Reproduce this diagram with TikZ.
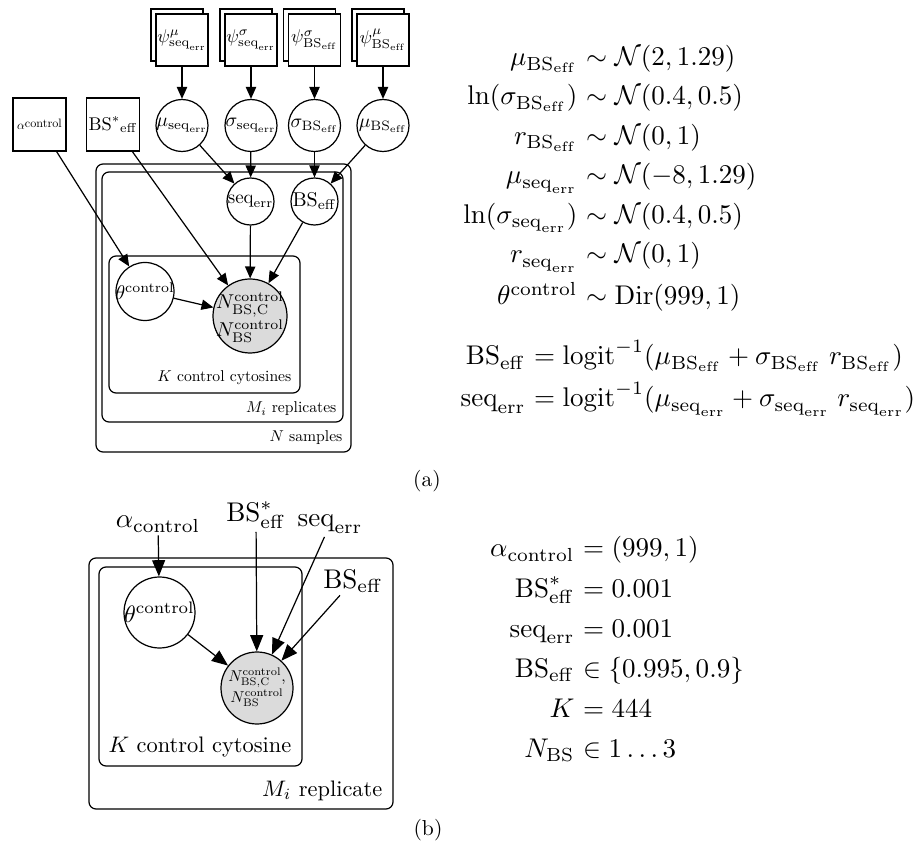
\documentclass[tikz,border=0pt]{standalone}
\usepackage{graphicx}
\usepackage{amsmath}
\usetikzlibrary{arrows.meta}

\definecolor{obsgray}{gray}{0.86}
\def\pxu{0.37pt}
% text set at 10pt and shrunk by a factor
\newcommand\sz[2]{\scalebox{#1}{#2}}
\newcommand\BSeff{\mathrm{BS}_{\mathrm{eff}}}
\newcommand\seqerr{\mathrm{seq}_{\mathrm{err}}}
\newcommand\ctl{\mathrm{control}}

\begin{document}
\begin{tikzpicture}[x=0.37pt,y=-0.37pt,line width=0.45pt,
  boxA/.style={draw,fill=white,rectangle,minimum size=52*\pxu,inner sep=0pt},
  circ/.style={draw,fill=white,circle,inner sep=0pt},
  obs/.style={circ,fill=obsgray},
  lbl/.style={inner sep=0pt},
  arA/.style={-{Triangle[length=4.4pt,width=3.8pt]}},
  arB/.style={-{Triangle[length=6pt,width=4.8pt]}},
  plate/.style={draw,rounded corners=2.6pt},
  plab/.style={anchor=base east,inner sep=0pt},
  eqL/.style={anchor=base east,inner sep=0pt},
  eqR/.style={anchor=base west,inner sep=0pt},
  hyper/.style={inner sep=1pt},
]
\useasboundingbox (0,0) rectangle (914,848);

% ---------------- (a) plates ----------------
\draw[plate] (96,164) rectangle (351,452);
\draw[plate] (102,172) rectangle (343,422);
\draw[plate] (109,256) rectangle (300,393);
\node[plab] (platK) at (292,382) {\sz{0.58}{$K$ control cytosines}};
\node[plab] (platM) at (337,413) {\sz{0.58}{$M_i$ replicates}};
\node[plab] (platN) at (343,442) {\sz{0.58}{$N$ samples}};

% stacked hyper-prior boxes (back copies)
\foreach \cx in {182,251,314.5,383}
  \draw[fill=white] (\cx-31,9) rectangle (\cx+21,61);
\node[boxA] (psiMs) at (182,40)   {\sz{0.68}{$\psi^{\mu}_{\seqerr}$}};
\node[boxA] (psiSs) at (251,40)   {\sz{0.68}{$\psi^{\sigma}_{\seqerr}$}};
\node[boxA] (psiSb) at (314.5,40) {\sz{0.68}{$\psi^{\sigma}_{\BSeff}$}};
\node[boxA] (psiMb) at (383,40)   {\sz{0.68}{$\psi^{\mu}_{\BSeff}$}};

% hyper-parameter circles
\node[circ,minimum size=52*\pxu] (muS) at (182,125.5) {};
\node[lbl] (muSl) at (muS) {\sz{0.72}{$\mu_{\seqerr}$}};
\node[circ,minimum size=52*\pxu] (sgS) at (251,125.5) {};
\node[lbl] (sgSl) at (sgS) {\sz{0.72}{$\sigma_{\seqerr}$}};
\node[circ,minimum size=52*\pxu] (sgB) at (314.5,125.5) {};
\node[lbl] (sgBl) at (sgB) {\sz{0.72}{$\sigma_{\BSeff}$}};
\node[circ,minimum size=52*\pxu] (muB) at (383,125.5) {};
\node[lbl] (muBl) at (muB) {\sz{0.72}{$\mu_{\BSeff}$}};

% fixed inputs
\node[boxA,minimum size=53*\pxu] (alA) at (39.5,124.5)
  {\sz{0.45}{$\alpha$\raisebox{1.6pt}{control}}};
\node[boxA,minimum size=53*\pxu] (bsstA) at (113,124.5)
  {\sz{0.68}{$\mathrm{BS}^{*}{}_{\mathrm{eff}}$}};

% per-replicate nodes
\node[circ,minimum size=47*\pxu] (seA) at (250.5,201.5) {};
\node[lbl] (seAl) at (seA) {\sz{0.7}{$\seqerr$}};
\node[circ,minimum size=47*\pxu] (bsA) at (314.5,201.5) {};
\node[lbl] (bsAl) at (bsA) {\sz{0.74}{$\BSeff$}};

% per-cytosine nodes
\node[circ,minimum size=58*\pxu] (thA) at (145,291.5) {};
\node[lbl] (thAl) at (thA) {\sz{0.74}{$\theta^{\ctl}$}};
\node[obs,minimum size=74*\pxu] (nA) at (250,316) {};
\node[lbl] (nAl) at (250,318)
  {\sz{0.74}{\begin{tabular}{@{}c@{}}$N^{\ctl}_{\mathrm{BS,C}}$\\[2pt]$N^{\ctl}_{\mathrm{BS}}$\end{tabular}}};

% (a) connectors
\draw[arA] (psiMs) -- (muS);
\draw[arA] (psiSs) -- (sgS);
\draw[arA] (psiSb) -- (sgB);
\draw[arA] (psiMb) -- (muB);
\draw[arA] (muS) -- (seA);
\draw[arA] (sgS) -- (seA);
\draw[arA] (sgB) -- (bsA);
\draw[arA] (muB) -- (bsA);
\draw[arA] (alA) -- (thA);
\draw[arA] (bsstA) -- (nA);
\draw[arA] (seA) -- (nA);
\draw[arA] (bsA) -- (nA);
\draw[arA] (thA) -- (nA);

% (a) model equations
\node[eqL] (a1l) at (578,66)  {$\mu_{\BSeff}$};
\node[eqR] (a1r) at (578,66)  {${}\sim\mathcal{N}(2,1.29)$};
\node[eqL] (a2l) at (578,105) {$\ln(\sigma_{\BSeff})$};
\node[eqR] (a2r) at (578,105) {${}\sim\mathcal{N}(0.4,0.5)$};
\node[eqL] (a3l) at (578,144.5) {$r_{\BSeff}$};
\node[eqR] (a3r) at (578,144.5) {${}\sim\mathcal{N}(0,1)$};
\node[eqL] (a4l) at (578,184) {$\mu_{\seqerr}$};
\node[eqR] (a4r) at (578,184) {${}\sim\mathcal{N}(-8,1.29)$};
\node[eqL] (a5l) at (578,223.5) {$\ln(\sigma_{\seqerr})$};
\node[eqR] (a5r) at (578,223.5) {${}\sim\mathcal{N}(0.4,0.5)$};
\node[eqL] (a6l) at (578,263) {$r_{\seqerr}$};
\node[eqR] (a6r) at (578,263) {${}\sim\mathcal{N}(0,1)$};
\node[eqL] (a7l) at (578,305) {$\theta^{\ctl}$};
\node[eqR] (a7r) at (578,305) {${}\sim\mathrm{Dir}(999,1)$};
\node[eqL] (a8l) at (526,365) {$\BSeff$};
\node[eqR] (a8r) at (526,365)
  {${}=\mathrm{logit}^{-1}(\mu_{\BSeff}+\sigma_{\BSeff}\;r_{\BSeff})$};
\node[eqL] (a9l) at (526,407) {$\seqerr$};
\node[eqR] (a9r) at (526,407)
  {${}=\mathrm{logit}^{-1}(\mu_{\seqerr}+\sigma_{\seqerr}\;r_{\seqerr})$};

\node[lbl] (capA) at (427,481) {\sz{0.8}{(a)}};

% ---------------- (b) ----------------
\draw[plate] (89,558) rectangle (393,809);
\draw[plate] (99,567) rectangle (302,766);
\node[plab] (platKb) at (292,752) {\sz{0.83}{$K$ control cytosine}};
\node[plab] (platMb) at (383,796) {\sz{0.83}{$M_i$ replicate}};

\node[hyper,anchor=base] (alB) at (158,528) {$\alpha_{\ctl}$};
\node[hyper,anchor=base] (bsstB) at (256,522) {$\mathrm{BS}^{*}_{\mathrm{eff}}$};
\node[hyper,anchor=base] (seB) at (330,527) {$\seqerr$};
\node[hyper,anchor=base] (bsB) at (353,588) {$\BSeff$};

\node[circ,minimum size=71*\pxu] (thB) at (159.5,612.5) {};
\node[lbl] (thBl) at (thB) {\sz{0.88}{$\theta^{\ctl}$}};
\node[obs,minimum size=72*\pxu] (nB) at (257,688) {};
\node[lbl] (nBl) at (257,688)
  {\sz{0.58}{\begin{tabular}{@{}c@{}}$N^{\ctl}_{\mathrm{BS,C}}$,\\[1pt]$N^{\ctl}_{\mathrm{BS}}$\end{tabular}}};

\draw[arB] (alB) -- (thB);
\draw[arB] (bsstB) -- (nB);
\draw[arB] (seB) -- (nB);
\draw[arB] (bsB) -- (nB);
\draw[arB] (thB) -- (nB);

% (b) fixed values
\node[eqL] (b1l) at (575,557) {$\alpha_{\ctl}$};
\node[eqR] (b1r) at (575,557) {${}=(999,1)$};
\node[eqL] (b2l) at (575,597) {$\mathrm{BS}^{*}_{\mathrm{eff}}$};
\node[eqR] (b2r) at (575,597) {${}=0.001$};
\node[eqL] (b3l) at (575,637) {$\seqerr$};
\node[eqR] (b3r) at (575,637) {${}=0.001$};
\node[eqL] (b4l) at (575,677) {$\BSeff$};
\node[eqR] (b4r) at (575,677) {${}\in\{0.995,0.9\}$};
\node[eqL] (b5l) at (575,717) {$K$};
\node[eqR] (b5r) at (575,717) {${}=444$};
\node[eqL] (b6l) at (575,757) {$N_{\mathrm{BS}}$};
\node[eqR] (b6r) at (575,757) {${}\in 1\ldots3$};

\node[lbl] (capB) at (428,830) {\sz{0.8}{(b)}};
\end{tikzpicture}
\end{document}
